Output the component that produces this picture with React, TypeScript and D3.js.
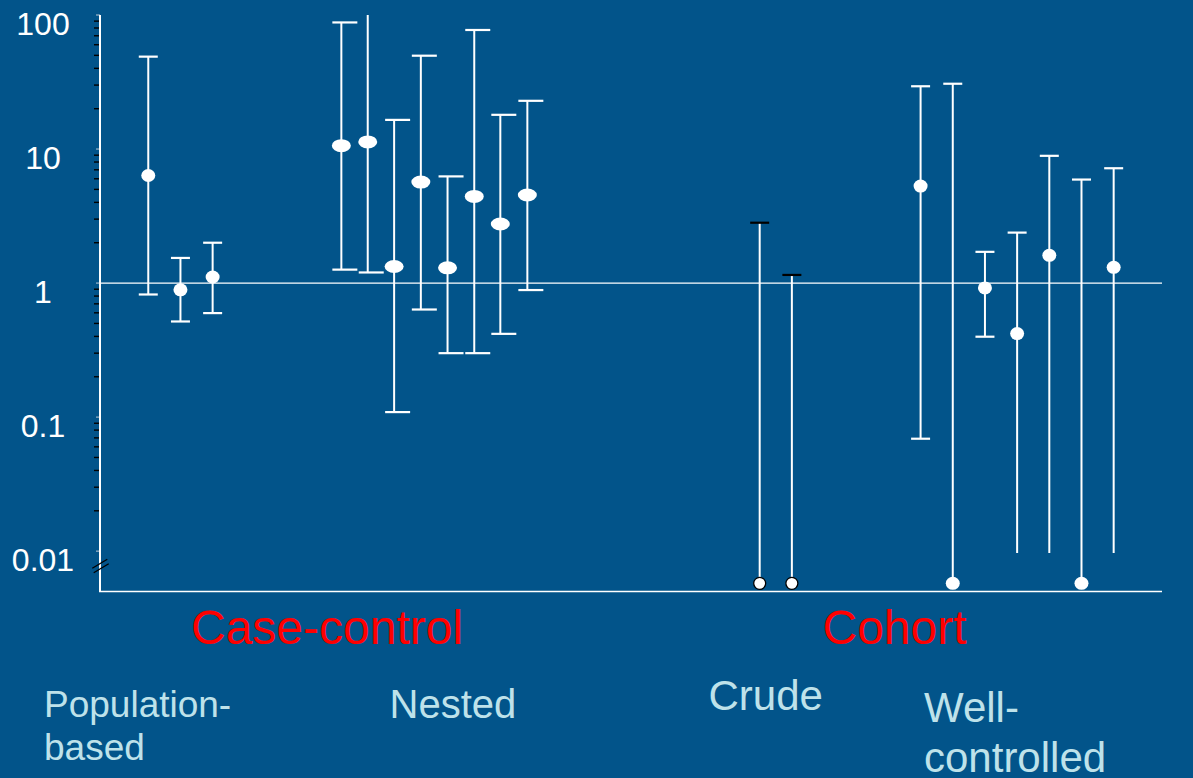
import React from "react";
import * as d3 from "d3";

// ---- data ----
const groupNames = ["Population-based", "Nested", "Crude", "Well-controlled"];
const studyGroup = [0, 0, 0, 1, 1, 1, 1, 1, 1, 1, 1, 2, 2, 3, 3, 3, 3, 3, 3, 3];
const studyPos = [1.5, 2.5, 3.5, 7.5, 8.32, 9.14, 9.97, 10.8, 11.63, 12.44, 13.28, 20.5, 21.5, 25.5, 26.5, 27.5, 28.5, 29.5, 30.5, 31.5];
// null = zero events (plotted on the floor below the axis break)
const estimate = [6.35, 0.89, 1.11, 10.6, 11.3, 1.33, 5.67, 1.3, 4.43, 2.76, 4.54, null, null, 5.29, null, 0.92, 0.42, 1.61, null, 1.31];
const lowerCI = [0.822, 0.517, 0.597, 1.26, 1.2, 0.109, 0.635, 0.3, 0.3, 0.418, 0.887, null, null, 0.069, null, 0.398, 0.0097, 0.0097, null, 0.0097];
const upperCI = [48.9, 1.54, 2.0, 88, 150, 16.5, 49.7, 6.25, 77.3, 18.0, 22.9, 2.82, 1.15, 29.4, 30.7, 1.71, 2.38, 8.9, 5.92, 7.19];
const upperCapped = [true, true, true, true, false, true, true, true, true, true, true, true, true, true, true, true, true, true, true, true];
const lowerCapped = [true, true, true, true, true, true, true, true, true, true, true, false, false, true, false, true, false, false, false, false];
const yTicks = [100, 10, 1, 0.1, 0.01];
const yTickLabels = ["100", "10", "1", "0.1", "0.01"];
const designLabels = ["Case-control", "Cohort"];
const ZERO_FLOOR = 0.00575;
const REFERENCE = 1;

// ---- layout / style ----
const W = 1193;
const H = 778;
const BG = "#02548A";
const LIGHT = "#BEE2EA";
const FONT = "'Liberation Sans', Arial, sans-serif";
const AXIS_X = 100;
const RIGHT = 1162;

export default function App() {
  const y = d3.scaleLog().domain([0.005, 100]).range([591.5, 15]);
  const x = d3.scaleLinear().domain([0, 33]).range([AXIS_X, AXIS_X + 33 * 32.18]);

  const minorTicks: number[] = [];
  [-2, -1, 0, 1].forEach((d) => {
    for (let k = 2; k <= 9; k++) minorTicks.push(k * Math.pow(10, d));
  });

  const capSpan = (g: number): [number, number] => (g === 1 ? [-9, 16] : [-9.5, 9.5]);

  return (
    <svg width={W} height={H} style={{ position: "absolute", left: 0, top: 0, display: "block" }} fontFamily={FONT}>
      <rect x={0} y={0} width={W} height={H} fill={BG} />

      {/* reference line at 1 */}
      <line x1={AXIS_X} x2={RIGHT} y1={y(REFERENCE)} y2={y(REFERENCE)} stroke="#ffffff" strokeWidth={1.3} />

      {/* minor ticks */}
      {minorTicks.map((t, i) => (
        <line key={"m" + i} x1={AXIS_X - 6} x2={AXIS_X} y1={y(t)} y2={y(t)} stroke="#000000" strokeWidth={1.4} />
      ))}
      {yTicks.map((t, i) => (
        <line key={"M" + i} x1={AXIS_X - 4} x2={AXIS_X} y1={y(t)} y2={y(t)} stroke="#9fb6c8" strokeWidth={1.2} />
      ))}

      {/* axes */}
      <line x1={AXIS_X} x2={AXIS_X} y1={y(100)} y2={y(0.005)} stroke="#ffffff" strokeWidth={2} />
      <line x1={AXIS_X - 1} x2={RIGHT} y1={y(0.005)} y2={y(0.005)} stroke="#ffffff" strokeWidth={1.6} />

      {/* axis break */}
      <line x1={92.3} y1={568.3} x2={107.3} y2={559.3} stroke="#000000" strokeWidth={1.3} />
      <line x1={93.7} y1={572.7} x2={108.7} y2={563.7} stroke="#000000" strokeWidth={1.3} />

      {/* tick labels */}
      {yTicks.map((t, i) => (
        <text key={"l" + i} x={43} y={y(t) + 19.5} textAnchor="middle" fontSize={32} fill="#ffffff">
          {yTickLabels[i]}
        </text>
      ))}

      {/* error bars */}
      {studyPos.map((p, i) => {
        const g = studyGroup[i];
        const cx = x(p);
        const top = y(Math.min(upperCI[i], 100));
        const lo = lowerCI[i];
        const bottom = lo === null ? y(ZERO_FLOOR) : y(lo);
        const [c0, c1] = capSpan(g);
        const capColor = g === 2 ? "#000000" : "#ffffff";
        return (
          <g key={"e" + i}>
            <line x1={cx} x2={cx} y1={top} y2={bottom} stroke="#ffffff" strokeWidth={2} />
            {upperCapped[i] && (
              <line x1={cx + c0} x2={cx + c1} y1={top} y2={top} stroke={capColor} strokeWidth={2.2} />
            )}
            {lowerCapped[i] && lo !== null && (
              <line x1={cx + c0} x2={cx + c1} y1={bottom} y2={bottom} stroke={capColor} strokeWidth={2.2} />
            )}
          </g>
        );
      })}

      {/* point estimates */}
      {studyPos.map((p, i) => {
        const g = studyGroup[i];
        const cx = x(p);
        const est = estimate[i];
        const cy = y(est === null ? ZERO_FLOOR : est);
        if (g === 2) {
          return <circle key={"p" + i} cx={cx} cy={cy} r={6} fill="#ffffff" stroke="#000000" strokeWidth={1.3} />;
        }
        const rx = g === 1 ? 9.5 : 7;
        return <ellipse key={"p" + i} cx={cx} cy={cy} rx={rx} ry={6.5} fill="#ffffff" />;
      })}

      {/* design labels */}
      <text x={191} y={644} fontSize={48} fill="#ff0000">{designLabels[0]}</text>
      <text x={822.5} y={644} fontSize={48} fill="#ff0000">{designLabels[1]}</text>

      {/* group labels */}
      <text x={44} y={716.7} fontSize={37} fill={LIGHT}>Population-</text>
      <text x={44} y={760} fontSize={37} fill={LIGHT}>based</text>
      <text x={389.5} y={718.3} fontSize={40} fill={LIGHT}>{groupNames[1]}</text>
      <text x={708.5} y={710} fontSize={42} fill={LIGHT}>{groupNames[2]}</text>
      <text x={924} y={721.7} fontSize={42} fill={LIGHT}>Well-</text>
      <text x={924} y={771.7} fontSize={42} fill={LIGHT}>controlled</text>
    </svg>
  );
}
